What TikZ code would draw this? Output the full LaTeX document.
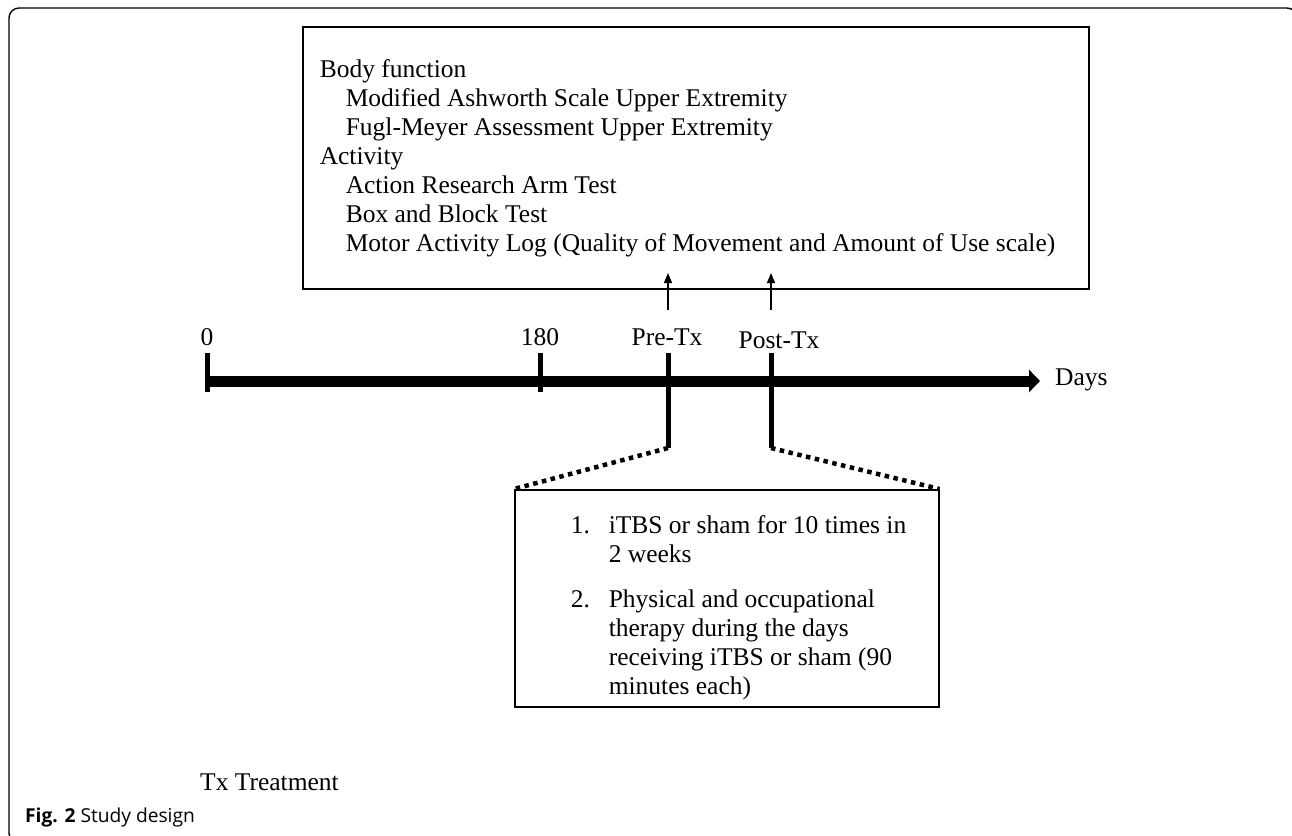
\documentclass[tikz,border=0pt]{standalone}
\usepackage{fontspec}
\setmainfont{Liberation Serif}
\newfontfamily\capfont{Open Sans}
\usetikzlibrary{arrows.meta,positioning}

\begin{document}
\begin{tikzpicture}
    [
      x=1pt, y=-1pt,
      every node/.style={font=\fontsize{25.5}{29}\selectfont},
      box/.style={draw, line width=1.5pt, inner ysep=0pt, anchor=north west},
      daytext/.style={anchor=base, inner sep=0pt},
      plain/.style={anchor=base west, inner sep=0pt},
      tick/.style={line width=5pt},
      dayaxis/.style={line width=11pt, -{Triangle[length=11pt,width=22pt]}},
      probe/.style={line width=1.2pt, -{Triangle[length=10pt,width=8pt]}},
      spread/.style={line width=4.5pt, dash pattern=on 4.5pt off 4.5pt},
    ]
    \useasboundingbox (0,0) rectangle (1292,835);
    \draw [line width=1.4pt, rounded corners=10pt] (9,8) rectangle (1297,843);

    % outcome measures
    \node (outcome) [box, inner xsep=17pt] at (302,26) {%
      \begin{minipage}[c][262pt][t]{752pt}
        \vspace*{30.7pt}\strut Body function\\
        \hspace*{26pt}Modified Ashworth Scale Upper Extremity\\
        \hspace*{26pt}Fugl-Meyer Assessment Upper Extremity\\
        Activity\\
        \hspace*{26pt}Action Research Arm Test\\
        \hspace*{26pt}Box and Block Test\\
        \hspace*{26pt}Motor Activity Log (Quality of Movement and Amount of Use scale)
      \end{minipage}};

    % timeline
    \coordinate (day0) at (207.5,381);
    \coordinate (day180) at (540,381);
    \coordinate (pretx) at (668,381);
    \coordinate (posttx) at (771,381);
    \coordinate (dayend) at (1040,381);
    \coordinate (prefoot) at (668,448);
    \coordinate (postfoot) at (771,448);
    \coordinate (preprobe) at (668,310);
    \coordinate (pretip) at (668,273);
    \coordinate (postprobe) at (771,310);
    \coordinate (posttip) at (771,273);

    \draw [dayaxis] (day0) -- (dayend);
    \draw [tick] ([yshift=28pt]day0) -- ([yshift=-11pt]day0);
    \draw [tick] ([yshift=28pt]day180) -- ([yshift=-11pt]day180);
    \draw [tick] ([yshift=28pt]pretx) -- (prefoot);
    \draw [tick] ([yshift=28pt]posttx) -- (postfoot);

    \node (zero) [daytext] at (207,345) {0};
    \node (oneeighty) [daytext] at (540,345) {180};
    \node (pre) [daytext] at (667,345) {Pre-Tx};
    \node (post) [daytext] at (779,348) {Post-Tx};
    \node (days) [plain] at (1055,385) {Days};

    \draw [probe] (preprobe) -- (pretip);
    \draw [probe] (postprobe) -- (posttip);

    % treatment box
    \node (therapy) [box, inner xsep=0pt] at (514,489) {%
      \begin{minipage}[c][217pt][t]{424pt}
        \vspace*{23pt}\leftskip=56pt
        \strut\makebox[38pt][l]{1.}iTBS or sham for 10 times in\\
        \hspace*{38pt}2 weeks\par
        \vspace{16.4pt}
        \strut\makebox[38pt][l]{2.}Physical and occupational\\
        \hspace*{38pt}therapy during the days\\
        \hspace*{38pt}receiving iTBS or sham (90\\
        \hspace*{38pt}minutes each)
      \end{minipage}};

    \draw [spread] (prefoot) -- (therapy.north west);
    \draw [spread] (postfoot) -- (therapy.north east);

    \node (legend) [plain] at (200,790) {Tx Treatment};
    \node (caption) [plain, font=\capfont\fontsize{19.2}{22}\selectfont] at (25,822) {\textbf{Fig. 2} Study design};

\end{tikzpicture}
\end{document}
